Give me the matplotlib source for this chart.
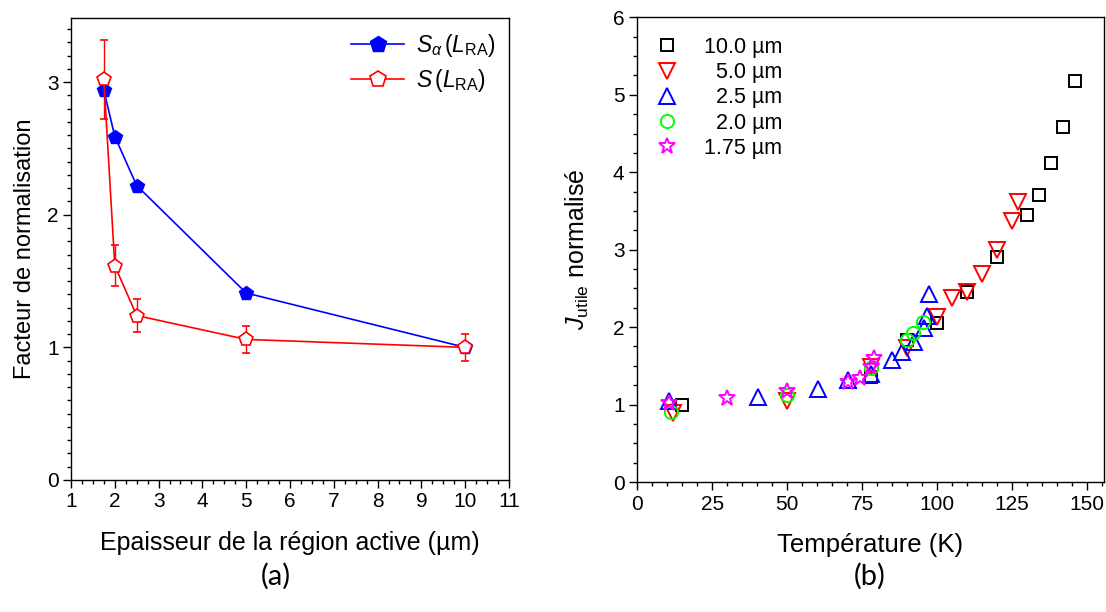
import matplotlib
matplotlib.use("Agg")
import matplotlib.pyplot as plt
from matplotlib.lines import Line2D
from matplotlib.ticker import MultipleLocator

# panel (a): normalisation factor vs active region thickness
thick = [1.75, 2.0, 2.5, 5.0, 10.0]
s_alpha = [2.94, 2.59, 2.22, 1.41, 1.00]
s_ra = [3.02, 1.615, 1.24, 1.06, 1.00]
s_ra_err = [0.30, 0.155, 0.125, 0.10, 0.10]

# panel (b): normalised useful current vs temperature
t_100 = [15, 78, 90, 100, 110, 120, 130, 134, 138, 142, 146]
j_100 = [1.00, 1.35, 1.84, 2.05, 2.45, 2.90, 3.45, 3.70, 4.12, 4.58, 5.18]
t_50 = [12, 50, 78, 90, 100, 105, 110, 115, 120, 125, 127]
j_50 = [0.89, 1.04, 1.49, 1.73, 2.13, 2.38, 2.46, 2.68, 2.99, 3.37, 3.61]
t_25 = [10.7, 40.2, 60.3, 70.2, 78, 85, 88.3, 92.2, 95.5, 96.6, 97.2]
j_25 = [1.04, 1.10, 1.20, 1.32, 1.40, 1.57, 1.68, 1.81, 1.99, 2.14, 2.43]
t_20 = [11.2, 50.1, 78, 90, 92, 95.3]
j_20 = [0.91, 1.12, 1.47, 1.84, 1.93, 2.06]
t_175 = [10.7, 30.1, 50.1, 70.2, 74.4, 78, 79]
j_175 = [1.02, 1.08, 1.17, 1.29, 1.34, 1.49, 1.60]

plt.rcParams["font.family"] = ["Liberation Sans", "DejaVu Sans"]
plt.rcParams["mathtext.fontset"] = "custom"
plt.rcParams["mathtext.rm"] = "Liberation Sans"
plt.rcParams["mathtext.it"] = "Liberation Sans:italic"
plt.rcParams["axes.linewidth"] = 1.0


def style_axes(ax):
    ax.tick_params(which="both", direction="out", top=False, right=False,
                   labelsize=15, width=1.0, pad=3)
    ax.tick_params(which="major", length=6)
    ax.tick_params(which="minor", length=3)


fig = plt.figure(figsize=(11.06, 6.12), dpi=100)

ax1 = fig.add_axes([0.0642, 0.2157, 0.396, 0.7541])
ax1.plot(thick, s_alpha, color="#0000ff", lw=1.2, marker="p", ms=10,
         mfc="#0000ff", mec="#0000ff")
ax1.errorbar(thick, s_ra, yerr=s_ra_err, color="#ff0000", lw=1.2, marker="p",
             ms=10, mfc="white", mec="#ff0000", mew=1.2, capsize=3,
             elinewidth=1.0, capthick=1.0)
ax1.set_xlim(1, 11)
ax1.set_ylim(0, 3.48)
ax1.xaxis.set_major_locator(MultipleLocator(1))
ax1.xaxis.set_minor_locator(MultipleLocator(0.25))
ax1.yaxis.set_major_locator(MultipleLocator(1))
ax1.yaxis.set_minor_locator(MultipleLocator(0.1))
style_axes(ax1)
ax1.set_xlabel("Epaisseur de la région active (µm)", fontsize=18, labelpad=14)
ax1.set_ylabel("Facteur de normalisation", fontsize=17, labelpad=8)
handles = [
    Line2D([], [], color="#0000ff", lw=1.2, marker="p", ms=12, mfc="#0000ff"),
    Line2D([], [], color="#ff0000", lw=1.2, marker="p", ms=12, mfc="white",
           mew=1.2),
]
ax1.legend(handles, [r"$S_{\alpha}\,(L_{\mathrm{RA}})$", r"$S\,(L_{\mathrm{RA}})$"],
           loc="upper right", frameon=False, fontsize=16.5, handlelength=2.3,
           handletextpad=0.5, borderaxespad=0.2, labelspacing=0.35)

ax2 = fig.add_axes([0.576, 0.2124, 0.422, 0.7592])
ms_kw = dict(ls="none", mfc="none", mew=1.4)
ax2.plot(t_100, j_100, marker="s", ms=8, mec="black", label="10.0 µm", **ms_kw)
ax2.plot(t_50, j_50, marker="v", ms=11, mec="#ff0000", label="  5.0 µm", **ms_kw)
ax2.plot(t_25, j_25, marker="^", ms=11, mec="#0000ff", label="  2.5 µm", **ms_kw)
ax2.plot(t_20, j_20, marker="o", ms=9.5, mec="#00ff00", label="  2.0 µm", **ms_kw)
ax2.plot(t_175, j_175, marker="*", ms=12, mec="#ff00ff", label="1.75 µm", **ms_kw)
ax2.set_xlim(0, 155.5)
ax2.set_ylim(0, 6)
ax2.xaxis.set_major_locator(MultipleLocator(25))
ax2.xaxis.set_minor_locator(MultipleLocator(5))
ax2.yaxis.set_major_locator(MultipleLocator(1))
ax2.yaxis.set_minor_locator(MultipleLocator(0.25))
style_axes(ax2)
ax2.set_xlabel("Température (K)", fontsize=18.5, labelpad=14)
ax2.set_ylabel(r"$J_{\mathrm{utile}}$ normalisé", fontsize=18, labelpad=16)
ax2.legend(loc="upper left", frameon=False, fontsize=15.5, handlelength=1.0,
           handletextpad=1.2, borderaxespad=0.3, borderpad=0.6,
           labelspacing=0.2)

fig.text(0.249, 0.058, "(a)", fontsize=21, family=["Lato", "DejaVu Sans"],
         ha="center", va="center")
fig.text(0.786, 0.058, "(b)", fontsize=21, family=["Lato", "DejaVu Sans"],
         ha="center", va="center")

fig.savefig("out.png", dpi=100)
